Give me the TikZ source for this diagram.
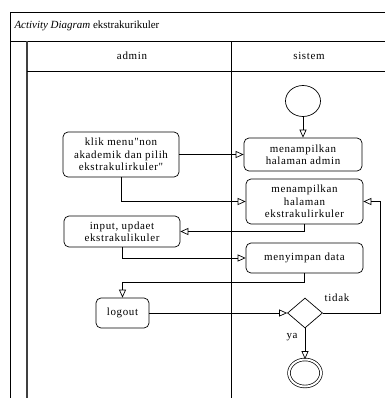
\documentclass[tikz,border=0pt]{standalone}
\usepackage{fontspec}
\setmainfont{Liberation Serif}
\newfontfamily\boxfont[LetterSpace=6]{Liberation Serif}
\usepackage{tikz}
\usetikzlibrary{shapes.geometric, arrows.meta, positioning}

\begin{document}
\begin{tikzpicture}[
    x=1bp, y=-1bp,
    font=\boxfont\fontsize{11}{12.5}\selectfont,
    activity/.style={rectangle, draw, rounded corners=5bp, text centered, align=center, line width=0.7pt, inner sep=2bp},
    decision/.style={diamond, draw, line width=0.7pt, minimum width=35bp, minimum height=30bp, inner sep=0pt},
    startnode/.style={ellipse, draw, line width=0.7pt, minimum width=35bp, minimum height=31bp},
    endnode/.style={ellipse, draw, double, double distance=2bp, line width=0.7pt, minimum width=32bp, minimum height=27bp},
    flow/.style={line width=0.7pt, -{Triangle[open, length=8bp, width=7bp]}},
    lane/.style={line width=0.7pt}
]
    \useasboundingbox (0,0) rectangle (385,398);

    % Swimlane frame
    \draw [lane] (385,12) -- (10,12) -- (10,398);
    \draw [lane] (10,41) -- (385,41);
    \draw [lane, line width=1.2pt, black!75] (27,41) -- (27,398);
    \draw [lane] (27,71) -- (385,71);
    \draw [lane, line width=1pt] (231,41) -- (231,398);
    \node [anchor=west, font=\rmfamily\fontsize{11}{13}\selectfont] (title) at (11,26) {\textit{Activity Diagram} ekstrakurikuler};
    \node (admin) at (132,56) {admin};
    \node (sistem) at (309,56) {sistem};

    % Admin lane
    \node [activity, minimum width=116bp, minimum height=45bp] (klik) at (121,154.5) {klik menu"non\\akademik dan pilih\\ekstrakulirkuler"};
    \node [activity, minimum width=116bp, minimum height=31bp] (input) at (122,231.5) {input, updaet\\ekstrakulikuler};
    \node [activity, minimum width=53bp, minimum height=30bp] (logout) at (122.5,313) {logout};

    % Sistem lane
    \node [startnode] (start) at (303,101) {};
    \node [activity, minimum width=118bp, minimum height=33bp] (halamanadmin) at (303,154.5) {menampilkan\\halaman admin};
    \node [activity, minimum width=117bp, minimum height=45bp] (halamanekskul) at (304.5,201.5) {menampilkan\\halaman\\ekstrakulirkuler};
    \node [activity, minimum width=117bp, minimum height=30bp] (simpan) at (304.5,258) {menyimpan data};
    \node [decision] (cek) at (305,313) {};
    \node [endnode] (finish) at (305,373) {};

    % Connections
    \draw [flow] (start) -- (halamanadmin);
    \draw [flow] (klik) -- (halamanadmin);
    \draw [flow] (klik.south) |- (halamanekskul.west);
    \draw [flow] (halamanekskul.south) |- (input.east);
    \draw [flow] (input.south) |- (simpan.west);
    \draw [flow] (simpan.south) -- ++(0,9) -| (logout.north);
    \draw [flow] (logout) -- (cek);
    \draw [flow] (cek.east) -- ++(57,0) |- (halamanekskul.east);
    \draw [flow] (cek.south) -- (finish.north);
    \node (tidak) at (337,298) {tidak};
    \node (ya) at (292,337) {ya};
\end{tikzpicture}
\end{document}
